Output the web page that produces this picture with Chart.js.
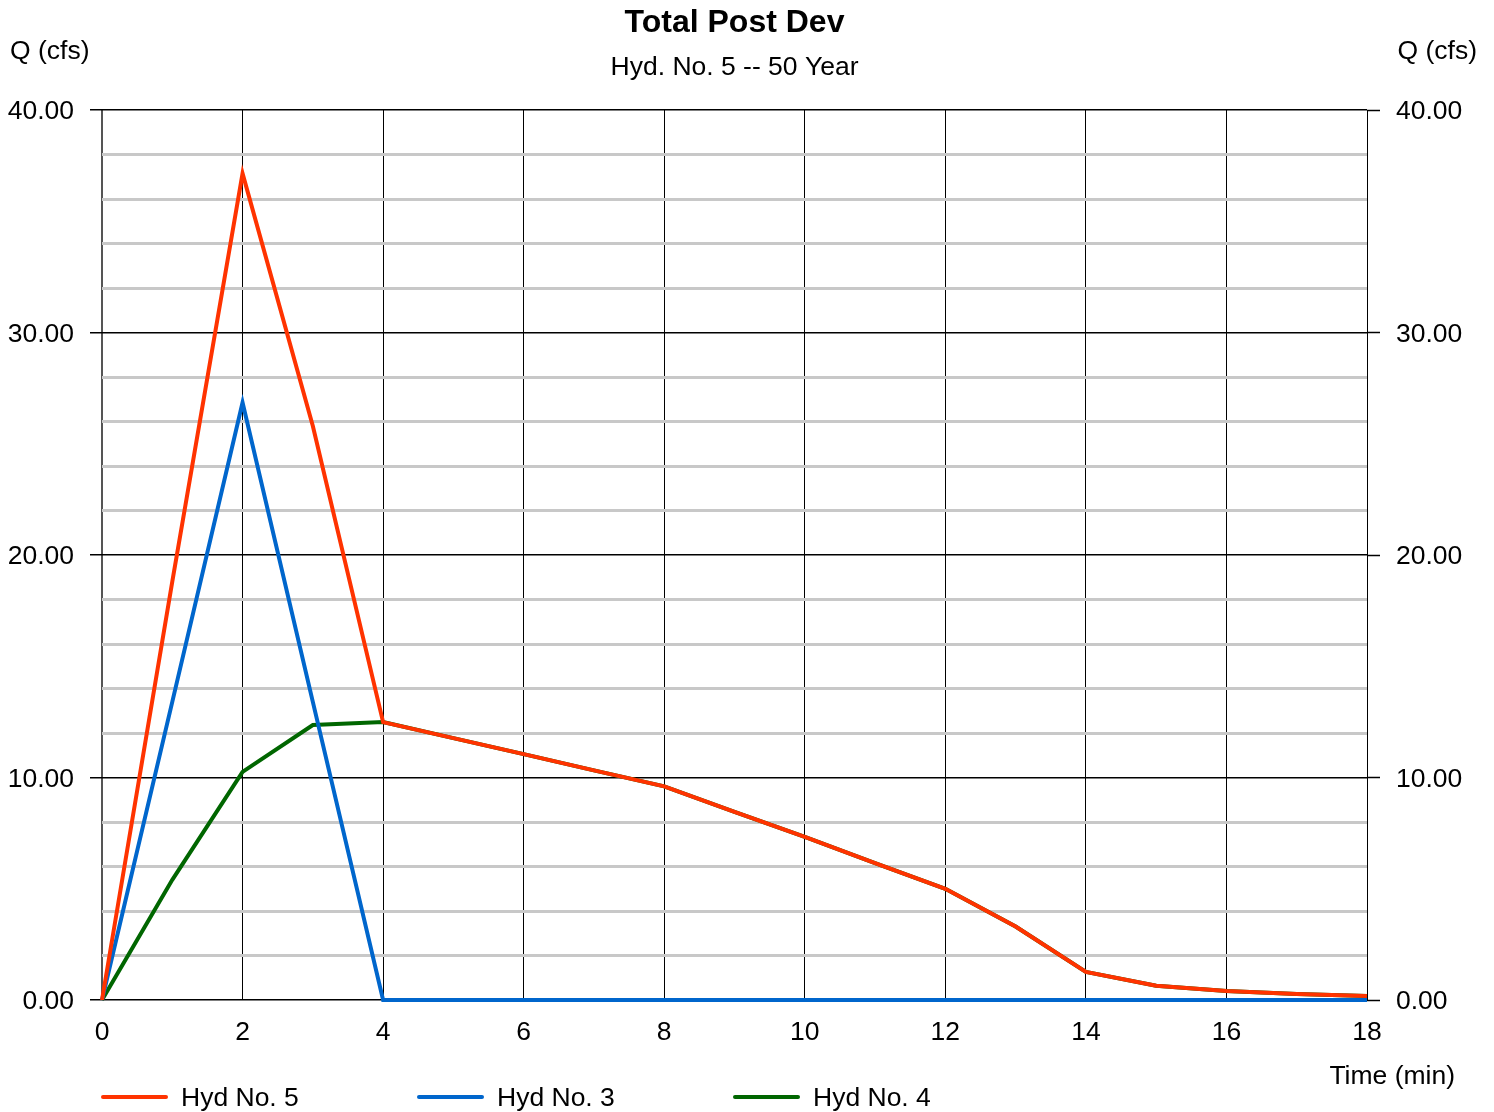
<!DOCTYPE html>
<html>
<head>
<meta charset="utf-8">
<script src="https://cdn.jsdelivr.net/npm/chart.js@4"></script>
<style>
  html, body { margin: 0; padding: 0; background: #fff; }
  #wrap { width: 1494px; height: 1112px; position: relative; }
</style>
</head>
<body>
<div id="wrap"><canvas id="hydro"></canvas></div>
<script>
// valeurs (cfs), pas de 1 minute
const timeMin = [0, 1, 2, 3, 4, 5, 6, 7, 8, 9, 10, 11, 12, 13, 14, 15, 16, 17, 18];
const hyd5 = [0, 18.8, 37.15, 25.8, 12.49, 11.77, 11.05, 10.32, 9.6, 8.45, 7.33, 6.15, 5.0, 3.3, 1.26, 0.64, 0.40, 0.27, 0.18];
const hyd3 = [0, 13.4, 26.85, 13.4, 0, 0, 0, 0, 0, 0, 0, 0, 0, 0, 0, 0, 0, 0, 0];
const hyd4 = [0, 5.4, 10.25, 12.36, 12.49, 11.77, 11.05, 10.32, 9.6, 8.45, 7.33, 6.15, 5.0, 3.3, 1.26, 0.64, 0.40, 0.27, 0.18];
const seriesNames = ["Hyd No. 5", "Hyd No. 3", "Hyd No. 4"];
const seriesColors = ["#ff3300", "#0066cc", "#006600"];

const FONT = "Arial, 'Liberation Sans', sans-serif";

function toPoints(values) {
    return timeMin.map((t, i) => ({ x: t, y: values[i] }));
}

// textes autour du graphe + légende maison
const decorations = {
    id: "decorations",
    afterDraw(chart) {
        const { ctx, chartArea } = chart;
        const cx = (chartArea.left + chartArea.right) / 2;
        ctx.save();
        ctx.fillStyle = "#000";
        ctx.textBaseline = "middle";

        ctx.textAlign = "center";
        ctx.font = "bold 32px " + FONT;
        ctx.fillText("Total Post Dev", cx, 23);
        ctx.font = "26.5px " + FONT;
        ctx.fillText("Hyd. No. 5 -- 50 Year", cx, 68);

        ctx.font = "26.5px " + FONT;
        ctx.textAlign = "left";
        ctx.fillText("Q (cfs)", 10, 52);
        ctx.textAlign = "right";
        ctx.fillText("Q (cfs)", 1477, 52);
        ctx.fillText("Time (min)", 1455, 1077);

        // légende
        ctx.textAlign = "left";
        chart.data.datasets.forEach((ds, i) => {
            const x = chartArea.left + i * 316;
            const y = 1097;
            ctx.strokeStyle = ds.borderColor;
            ctx.lineWidth = 4;
            ctx.lineCap = "round";
            ctx.beginPath();
            ctx.moveTo(x + 1, y);
            ctx.lineTo(x + 64, y);
            ctx.stroke();
            ctx.fillText(ds.label, x + 79, y + 2);
        });
        ctx.restore();
    }
};

const yTicks = {
    stepSize: 2,
    color: "#000",
    font: { family: FONT, size: 26.5 },
    padding: 16,
    labelOffset: 2,
    callback: v => (v % 10 === 0 ? v.toFixed(2) : "")
};

new Chart(document.getElementById("hydro"), {
    type: "line",
    data: {
        datasets: [hyd5, hyd3, hyd4].map((vals, i) => ({
            label: seriesNames[i],
            data: toPoints(vals),
            borderColor: seriesColors[i],
            backgroundColor: seriesColors[i],
            borderWidth: 4,
            pointRadius: 0,
            tension: 0,
            fill: false,
            clip: 6
        }))
    },
    options: {
        responsive: true,
        maintainAspectRatio: false,
        animation: false,
        layout: { padding: { top: 110, left: 0, right: 0, bottom: 0 } },
        plugins: {
            legend: { display: false },
            title: { display: false },
            tooltip: { enabled: false }
        },
        scales: {
            x: {
                type: "linear",
                min: 0,
                max: 18,
                ticks: {
                    stepSize: 2,
                    color: "#000",
                    font: { family: FONT, size: 26.5 },
                    padding: 17,
                    maxRotation: 0
                },
                grid: {
                    color: c => (c.tick.value === 0 ? "#555" : "#000"),
                    lineWidth: c => (c.tick.value === 0 ? 2 : 1),
                    drawTicks: false
                },
                border: { display: false },
                afterFit(scale) { scale.height = 112; }
            },
            y: {
                position: "left",
                min: 0,
                max: 40,
                ticks: yTicks,
                grid: {
                    color: c => (c.tick.value % 10 === 0 ? "#000" : "#c8c8c8"),
                    lineWidth: c => (c.tick.value % 10 === 0 ? 1.5 : 3),
                    tickColor: c => (c.tick.value % 10 === 0 ? "#000" : "rgba(0,0,0,0)"),
                    tickWidth: 1.5,
                    tickLength: 12
                },
                border: { display: false },
                afterFit(scale) { scale.width = 102; }
            },
            y2: {
                position: "right",
                min: 0,
                max: 40,
                ticks: yTicks,
                grid: {
                    drawOnChartArea: false,
                    tickColor: c => (c.tick.value % 10 === 0 ? "#000" : "rgba(0,0,0,0)"),
                    tickWidth: 1.5,
                    tickLength: 13
                },
                border: { display: false },
                afterFit(scale) { scale.width = 127; }
            }
        }
    },
    plugins: [decorations]
});
</script>
</body>
</html>
